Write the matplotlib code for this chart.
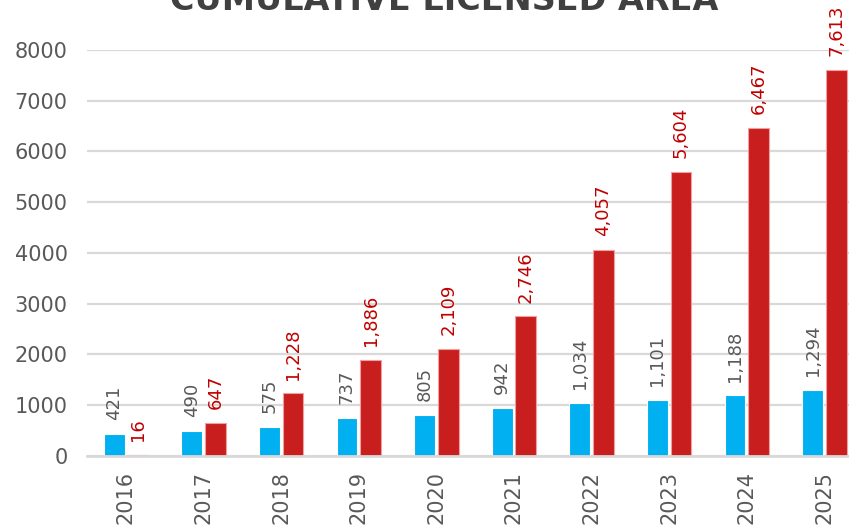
import numpy as np
import matplotlib.pyplot as plt

years = ["2016", "2017", "2018", "2019", "2020", "2021", "2022", "2023", "2024", "2025"]
blue_vals = [421, 490, 575, 737, 805, 942, 1034, 1101, 1188, 1294]
red_vals = [16, 647, 1228, 1886, 2109, 2746, 4057, 5604, 6467, 7613]

plt.rcParams['font.family'] = ['DejaVu Sans']

fig = plt.figure(figsize=(8.49, 5.27), dpi=100)
ax = fig.add_axes([0.1027, 0.1353, 0.914, 0.7697])

x = np.arange(len(years))
w = 0.27
off = 0.152
bb = ax.bar(x - off, blue_vals, w, color="#00B0F0", edgecolor="white", linewidth=0.8, zorder=3)
rb = ax.bar(x + off, red_vals, w, color="#C81E1E", edgecolor="#F0A0A0", linewidth=0.8, zorder=3)

for xi, v in zip(x, blue_vals):
    ax.annotate(f"{v:,}", (xi - off, v), xytext=(0, 10), textcoords="offset points",
                rotation=90, ha="center", va="bottom", fontsize=13, color="#595959")
for xi, v in zip(x, red_vals):
    ax.annotate(f"{v:,}", (xi + off, v), xytext=(0, 10), textcoords="offset points",
                rotation=90, ha="center", va="bottom", fontsize=13, color="#C00000",
                annotation_clip=False)

ax.set_xlim(-0.5, len(years) - 0.5)
ax.set_ylim(0, 8000)
ax.set_yticks(range(0, 8001, 1000))
ax.set_xticks(x)
ax.set_xticklabels(years, rotation=90)
ax.tick_params(axis="y", length=0, pad=14, labelsize=15, labelcolor="#595959")
ax.tick_params(axis="x", length=0, pad=11, labelsize=15, labelcolor="#595959")
ax.grid(axis="y", color="#D9D9D9", linewidth=1.6, zorder=0)
for s in ["top", "right", "left"]:
    ax.spines[s].set_visible(False)
ax.spines["bottom"].set_color("#D9D9D9")
ax.spines["bottom"].set_linewidth(2)
ax.spines["bottom"].set_zorder(4)

# title sits partly above the top edge, as in the source image
fig.text(444 / 849, 1 - 10 / 527, "CUMULATIVE LICENSED AREA", ha="center", va="baseline",
         fontsize=24, fontweight="bold", color="#404040")

fig.savefig("out.png", dpi=100)
